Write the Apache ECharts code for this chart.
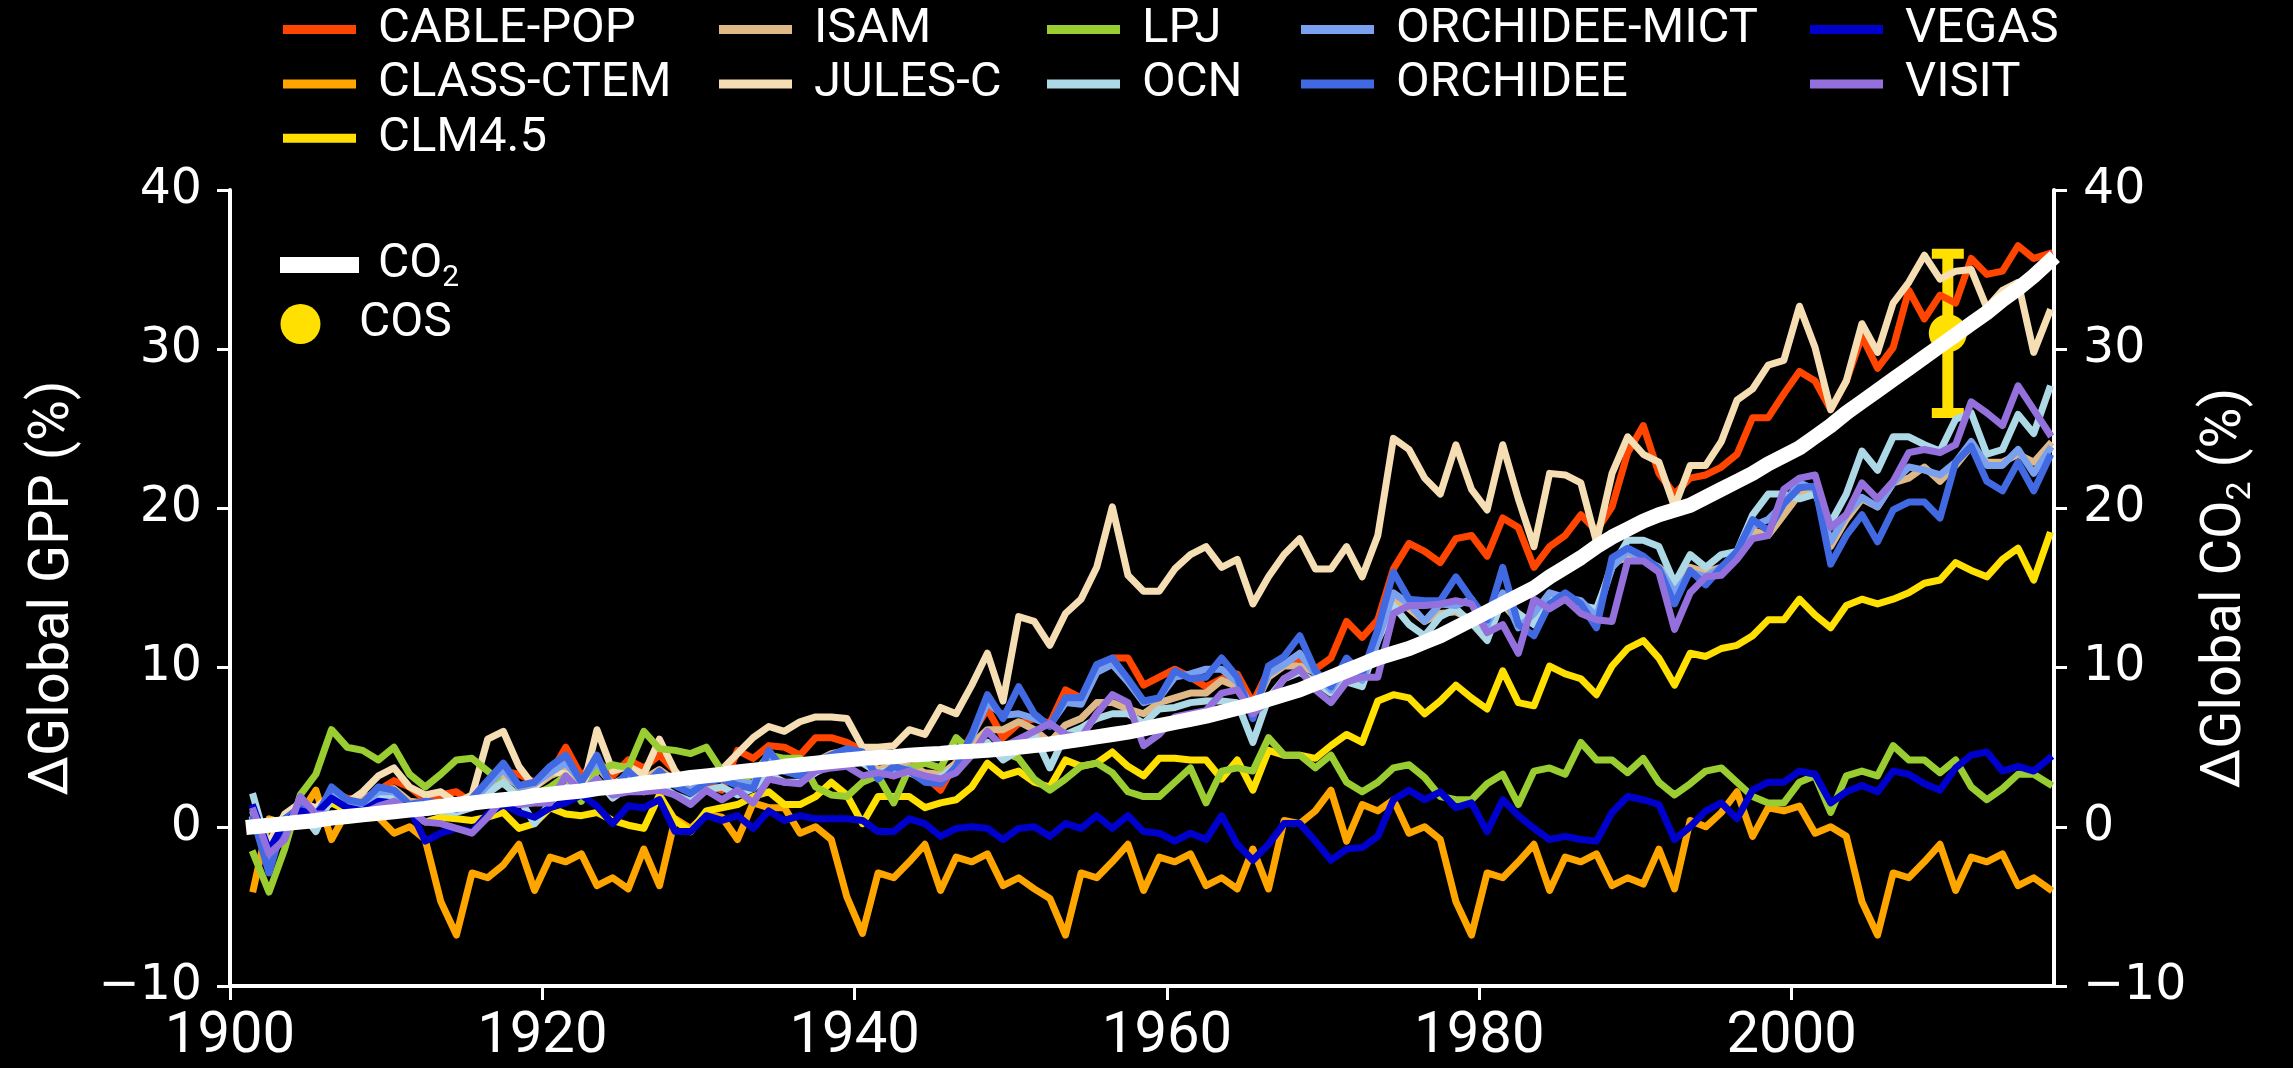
<!DOCTYPE html>
<html>
<head>
<meta charset="utf-8">
<script src="https://cdn.jsdelivr.net/npm/echarts@6/dist/echarts.min.js"></script>
<style>
  html, body { margin: 0; padding: 0; background: #000; }
  #chart { width: 2293px; height: 1068px; }
</style>
</head>
<body>
<div id="chart"></div>
<script>
// Annual change in global GPP (%) per model, 1901-2016, plus atmospheric CO2 change (%)
const FIRST_YEAR = 1901;
const X_TICKS = [1900, 1920, 1940, 1960, 1980, 2000];

const CABLE_POP = [
  0.5, -1.8, 0.5, 1.5, 1.0, 2.2, 1.8, 1.7, 2.3, 2.9, 2.5, 1.7, 2.0, 2.2, 1.5, 2.5, 3.5, 3.3, 2.8, 3.3,
  5.0, 3.2, 4.2, 3.2, 4.2, 3.7, 4.5, 3.5, 2.3, 2.7, 2.3, 4.8, 4.3, 5.1, 5.0, 4.5, 5.6, 5.6, 5.3, 4.8,
  3.5, 3.2, 4.6, 3.2, 2.3, 4.1, 5.8, 7.4, 5.6, 6.5, 6.8, 6.5, 8.6, 8.1, 9.9, 10.6, 10.6, 8.9, 9.4, 9.9,
  9.4, 8.8, 9.3, 9.6, 7.8, 9.8, 10.2, 10.6, 9.9, 10.6, 12.9, 11.9, 13.0, 16.2, 17.8, 17.3, 16.6, 18.1, 18.3, 17.0,
  19.4, 18.8, 16.3, 17.6, 18.3, 19.6, 18.6, 20.1, 23.5, 25.2, 22.2, 20.9, 21.9, 22.1, 22.6, 23.4, 25.7, 25.7, 27.2, 28.6,
  28.0, 26.2, 28.0, 30.8, 28.8, 30.1, 33.7, 31.9, 33.4, 32.9, 35.7, 34.7, 34.9, 36.5, 35.7, 36.0
];
const CLASS_CTEM = [
  -3.9, 0.5, 0.2, 0.8, 2.3, -0.8, 1.0, 0.8, 0.6, -0.4, 0.0, -0.8, -4.7, -6.8, -2.9, -3.2, -2.4, -1.1, -4.0, -1.9,
  -2.2, -1.7, -3.7, -3.2, -3.9, -1.4, -3.7, 0.5, -0.1, 0.8, 0.6, -0.8, 1.5, 1.2, 1.2, -0.4, 0.0, -0.8, -4.4, -6.7,
  -2.9, -3.2, -2.2, -1.1, -4.0, -1.9, -2.2, -1.7, -3.7, -3.2, -3.9, -4.5, -6.8, -2.9, -3.2, -2.2, -1.1, -4.0, -1.9, -2.2,
  -1.7, -3.7, -3.2, -3.9, -1.4, -3.9, 0.4, 0.2, 1.0, 2.3, -0.9, 1.4, 1.0, 1.7, -0.4, 0.0, -0.8, -4.7, -6.8, -2.9,
  -3.2, -2.2, -1.1, -4.0, -1.9, -2.2, -1.7, -3.7, -3.2, -3.6, -1.4, -3.9, 0.4, 0.0, 0.9, 2.2, -0.6, 1.2, 1.0, 1.3,
  -0.4, 0.0, -0.6, -4.7, -6.8, -2.9, -3.2, -2.2, -1.1, -4.0, -1.9, -2.2, -1.7, -3.7, -3.2, -3.9
];
const CLM45 = [
  0.5, -1.5, 0.2, 1.2, 0.8, 1.5, 1.0, 1.2, 1.5, 1.3, 1.0, 0.3, 0.6, 0.5, 0.4, 0.6, 0.9, -0.1, 0.2, 1.2,
  0.8, 0.7, 0.9, 0.4, 0.1, -0.1, 2.0, 0.4, -0.3, 1.0, 1.2, 1.4, 1.9, 2.2, 1.4, 1.4, 1.9, 2.8, 2.0, 0.2,
  1.9, 1.9, 1.9, 1.2, 1.5, 1.7, 2.5, 4.0, 3.2, 3.5, 2.8, 2.5, 4.2, 3.8, 4.0, 4.7, 3.8, 3.2, 4.3, 4.3,
  4.2, 4.2, 3.0, 4.2, 2.3, 4.8, 4.5, 4.5, 4.3, 5.1, 5.8, 5.3, 7.9, 8.3, 8.1, 7.1, 7.9, 8.9, 8.1, 7.4,
  9.8, 7.8, 7.6, 10.1, 9.6, 9.3, 8.3, 10.1, 11.2, 11.7, 10.6, 8.9, 10.9, 10.7, 11.2, 11.4, 12.0, 13.0, 13.0, 14.3,
  13.3, 12.5, 13.9, 14.3, 14.0, 14.3, 14.7, 15.3, 15.5, 16.6, 16.1, 15.7, 16.8, 17.5, 15.5, 18.3
];
const ISAM = [
  0.3, -1.8, 0.6, 1.4, 1.0, 2.0, 1.6, 1.8, 2.2, 2.4, 1.6, 1.5, 1.5, 1.3, 1.7, 2.5, 3.2, 2.6, 2.5, 3.2,
  3.6, 2.8, 3.8, 2.7, 3.2, 3.0, 3.6, 2.9, 2.5, 3.0, 3.1, 3.2, 3.2, 4.0, 3.7, 3.6, 4.1, 4.6, 4.8, 4.5,
  3.6, 3.8, 3.8, 3.4, 3.3, 4.0, 5.2, 6.1, 6.1, 6.6, 6.1, 5.3, 6.4, 6.8, 7.8, 7.8, 7.4, 7.1, 7.8, 8.1,
  8.4, 8.4, 9.2, 8.8, 7.4, 9.4, 10.1, 10.1, 9.7, 8.6, 9.4, 9.2, 11.9, 14.2, 13.7, 12.9, 13.4, 13.5, 13.0, 12.5,
  14.0, 12.9, 13.2, 14.3, 14.3, 13.8, 13.4, 16.6, 16.9, 16.8, 16.3, 15.5, 16.3, 16.0, 16.3, 17.1, 18.6, 18.3, 19.6, 20.9,
  21.2, 17.6, 19.3, 20.6, 20.1, 21.6, 21.9, 22.6, 21.7, 22.7, 23.9, 22.9, 22.9, 23.4, 22.9, 24.0
];
const JULES_C = [
  0.5, -1.0, 0.8, 1.5, 1.2, 2.0, 1.5, 2.2, 3.2, 3.7, 2.5, 2.0, 2.2, 1.5, 2.0, 5.5, 6.0, 3.8, 2.5, 3.5,
  3.3, 2.0, 6.1, 3.5, 3.8, 3.3, 5.5, 3.5, 2.3, 3.0, 3.6, 4.6, 5.6, 6.3, 6.0, 6.6, 6.9, 6.9, 6.8, 5.0,
  5.0, 5.1, 6.1, 5.8, 7.5, 7.1, 8.9, 10.9, 7.9, 13.2, 12.9, 11.4, 13.4, 14.3, 16.3, 20.1, 15.8, 14.8, 14.8, 16.2,
  17.1, 17.6, 16.3, 16.8, 14.0, 15.7, 17.1, 18.1, 16.2, 16.2, 17.6, 15.7, 18.3, 24.4, 23.7, 21.9, 20.9, 24.0, 21.2, 19.9,
  24.0, 20.6, 17.6, 22.2, 22.1, 21.6, 17.9, 22.2, 24.5, 23.4, 22.9, 20.1, 22.7, 22.7, 24.2, 26.8, 27.5, 29.0, 29.3, 32.7,
  30.1, 26.2, 28.0, 31.6, 29.8, 32.9, 34.2, 35.9, 34.4, 34.9, 35.0, 32.6, 33.7, 34.2, 29.8, 32.3
];
const LPJ = [
  -1.7, -4.1, -1.4, 2.0, 3.3, 6.1, 5.0, 4.8, 4.2, 5.0, 3.3, 2.5, 3.3, 4.2, 4.3, 3.5, 2.7, 2.0, 2.0, 2.5,
  3.2, 1.6, 3.5, 3.9, 3.7, 6.0, 4.9, 4.8, 4.6, 5.0, 3.5, 2.8, 3.3, 4.5, 4.3, 4.3, 2.5, 2.0, 1.9, 2.8,
  3.2, 1.5, 3.7, 4.0, 3.7, 5.6, 4.7, 4.8, 4.7, 4.3, 3.0, 2.3, 3.0, 3.8, 4.0, 3.4, 2.2, 1.9, 1.9, 2.8,
  3.7, 1.5, 3.5, 3.7, 3.5, 5.6, 4.5, 4.5, 3.7, 4.5, 2.8, 2.2, 2.8, 3.7, 3.9, 3.1, 1.9, 1.7, 1.7, 2.7,
  3.3, 1.4, 3.5, 3.7, 3.3, 5.3, 4.2, 4.2, 3.4, 4.3, 2.8, 2.0, 2.7, 3.5, 3.7, 2.8, 1.9, 1.5, 1.5, 2.8,
  3.2, 0.9, 3.2, 3.5, 3.2, 5.1, 4.2, 4.2, 3.4, 4.2, 2.5, 1.7, 2.4, 3.3, 3.3, 2.7
];
const OCN = [
  1.9, -1.6, 0.2, 1.0, -0.3, 1.9, 1.3, 1.2, 1.8, 1.9, 1.2, 0.9, 1.0, 0.9, 1.2, 2.1, 2.8, 1.8, 0.2, 1.5,
  2.5, 2.3, 3.0, 1.8, 2.5, 2.2, 2.6, 2.0, 1.6, 2.3, 2.5, 2.0, 2.4, 3.3, 2.8, 2.8, 3.4, 3.9, 4.0, 4.0,
  3.4, 3.6, 3.4, 3.0, 3.1, 3.8, 4.8, 5.3, 4.2, 4.8, 5.8, 3.7, 5.8, 6.2, 6.8, 7.1, 7.1, 6.5, 7.4, 7.5,
  7.8, 7.9, 7.9, 7.8, 5.3, 8.1, 9.3, 9.7, 9.1, 8.4, 9.1, 8.8, 11.7, 13.9, 12.7, 12.0, 13.2, 13.7, 12.8, 11.7,
  14.3, 13.4, 12.7, 14.3, 14.3, 13.9, 13.7, 16.3, 18.0, 18.0, 17.6, 15.3, 17.1, 16.3, 17.1, 17.3, 19.6, 20.9, 20.9, 20.6,
  20.9, 19.1, 20.9, 23.6, 22.4, 24.5, 24.5, 24.0, 23.6, 25.6, 26.0, 23.4, 23.7, 25.9, 24.7, 27.5
];
const ORCHIDEE_MICT = [
  0.8, -2.5, 0.4, 1.3, 0.8, 2.2, 1.5, 1.4, 2.2, 2.2, 1.3, 1.4, 1.4, 1.2, 1.6, 2.6, 3.6, 2.5, 2.7, 3.4,
  4.0, 2.9, 4.1, 2.5, 3.3, 2.8, 3.4, 2.7, 2.3, 2.9, 3.0, 2.8, 2.7, 4.3, 3.5, 3.3, 3.9, 4.2, 4.4, 4.4,
  3.2, 3.7, 3.6, 3.0, 2.9, 3.7, 5.6, 7.8, 7.0, 7.1, 6.8, 6.4, 7.8, 7.7, 9.7, 10.2, 9.1, 7.8, 8.1, 9.4,
  9.6, 9.9, 9.9, 9.1, 7.4, 9.6, 10.2, 10.9, 9.6, 8.6, 10.1, 9.2, 11.7, 14.7, 14.0, 12.9, 14.0, 13.9, 14.3, 12.7,
  14.7, 12.5, 13.4, 14.7, 14.4, 14.2, 13.2, 16.3, 17.3, 16.8, 16.3, 14.7, 16.0, 15.7, 16.3, 17.0, 18.9, 19.3, 20.3, 21.6,
  21.2, 17.9, 19.6, 20.7, 20.1, 21.6, 22.6, 22.4, 22.1, 22.9, 24.2, 22.7, 22.7, 23.7, 22.2, 23.7
];
const ORCHIDEE = [
  0.5, -2.9, 0.5, 1.2, 0.5, 2.5, 1.7, 1.5, 2.5, 2.3, 1.4, 1.6, 1.5, 1.1, 1.8, 2.9, 4.0, 2.6, 2.8, 3.8,
  4.5, 2.8, 4.5, 2.3, 3.5, 2.6, 3.5, 2.6, 2.1, 2.8, 3.0, 2.6, 2.4, 4.8, 3.5, 3.2, 4.1, 4.5, 4.9, 4.7,
  3.0, 3.8, 3.5, 2.8, 2.7, 3.8, 5.8, 8.3, 6.8, 8.8, 7.1, 6.3, 8.1, 8.1, 10.2, 10.6, 9.3, 7.9, 8.1, 9.8,
  9.3, 9.4, 10.6, 9.4, 6.8, 10.1, 10.7, 12.0, 9.8, 8.8, 10.6, 9.6, 12.4, 16.0, 14.3, 14.2, 14.2, 15.7, 14.3, 13.0,
  16.3, 12.7, 12.0, 14.0, 14.7, 14.0, 12.5, 16.9, 17.5, 17.0, 16.2, 14.0, 16.1, 15.2, 16.3, 17.3, 19.3, 18.6, 20.3, 21.3,
  21.4, 16.5, 18.3, 19.6, 17.9, 19.9, 20.4, 20.4, 19.4, 22.9, 23.9, 21.7, 21.1, 22.9, 21.1, 23.2
];
const VEGAS = [
  1.2, -1.5, 0.3, 1.0, 0.8, 1.8, 1.2, 1.0, 1.6, 1.5, 1.2, -0.9, -0.4, -0.1, -0.3, 0.8, 1.4, 0.9, 0.6, 1.2,
  1.5, 2.0, 1.3, 0.2, 1.3, 1.2, 1.7, -0.3, -0.3, 0.7, 0.4, 0.7, -0.1, 1.0, 0.4, 0.7, 0.5, 0.5, 0.5, 0.4,
  -0.3, -0.3, 0.5, 0.2, -0.6, -0.1, 0.0, -0.1, -0.8, -0.1, 0.0, -0.6, 0.2, -0.1, 0.7, -0.1, 0.7, -0.3, -0.4, -0.9,
  -0.4, -0.8, 0.7, -1.1, -2.1, -1.1, 0.2, 0.2, -0.9, -2.1, -1.4, -1.3, -0.6, 1.7, 2.3, 1.7, 2.2, 1.2, 1.5, -0.3,
  1.7, 0.7, -0.1, -0.8, -0.6, -0.8, -0.9, 0.9, 1.9, 1.7, 1.4, -0.8, 0.0, 1.0, 1.5, 0.5, 2.3, 2.8, 2.8, 3.5,
  3.3, 1.5, 2.2, 2.6, 2.2, 3.5, 3.3, 2.7, 2.3, 3.7, 4.5, 4.7, 3.5, 3.8, 3.5, 4.3
];
const VISIT = [
  1.0, -1.7, -0.8, 1.9, 0.8, 0.8, 0.4, 0.8, 1.3, 1.6, 1.1, 0.3, 0.2, -0.1, -0.4, 0.6, 1.8, 1.4, 1.5, 1.5,
  3.2, 2.2, 3.0, 2.0, 2.2, 2.2, 2.3, 2.0, 1.4, 2.3, 1.7, 2.3, 1.5, 3.0, 2.8, 2.7, 3.5, 3.7, 3.8, 3.2,
  3.4, 3.2, 3.5, 3.2, 3.0, 3.4, 4.5, 6.0, 5.0, 5.5, 6.0, 6.5, 5.8, 5.6, 7.1, 8.3, 7.8, 5.1, 5.8, 6.9,
  7.1, 7.3, 8.4, 8.6, 7.1, 7.9, 9.3, 9.9, 8.6, 7.8, 9.1, 9.4, 9.4, 13.4, 13.9, 13.9, 14.0, 14.2, 14.0, 12.2,
  12.7, 10.9, 14.3, 13.7, 14.3, 13.4, 13.0, 12.9, 16.7, 16.7, 16.0, 12.4, 14.7, 15.7, 15.8, 16.8, 18.1, 18.3, 21.2, 21.9,
  22.1, 18.8, 19.6, 21.6, 20.6, 21.7, 23.5, 23.7, 23.5, 24.0, 26.7, 26.0, 25.2, 27.7, 26.2, 24.7
];
const CO2 = [
  0.0, 0.1, 0.2, 0.3, 0.4, 0.55, 0.65, 0.75, 0.85, 0.95, 1.05, 1.15, 1.3, 1.4, 1.5, 1.6, 1.7, 1.8, 1.95, 2.05,
  2.15, 2.25, 2.4, 2.5, 2.6, 2.75, 2.85, 2.95, 3.1, 3.2, 3.3, 3.45, 3.55, 3.65, 3.8, 3.9, 4.0, 4.1, 4.2, 4.3,
  4.35, 4.4, 4.5, 4.55, 4.6, 4.7, 4.75, 4.8, 4.9, 5.0, 5.1, 5.2, 5.35, 5.5, 5.65, 5.8, 5.95, 6.15, 6.35, 6.55,
  6.75, 6.95, 7.2, 7.45, 7.7, 8.0, 8.3, 8.6, 9.0, 9.4, 9.8, 10.2, 10.6, 10.9, 11.2, 11.6, 12.0, 12.5, 13.0, 13.5,
  14.0, 14.5, 15.0, 15.7, 16.3, 16.9, 17.6, 18.2, 18.7, 19.2, 19.6, 19.9, 20.2, 20.7, 21.2, 21.7, 22.2, 22.8, 23.3, 23.8,
  24.5, 25.2, 26.0, 26.7, 27.4, 28.1, 28.8, 29.5, 30.2, 30.9, 31.6, 32.3, 33.1, 33.8, 34.6, 35.5
];
// COS-based estimate with its uncertainty range
const COS_YEAR = 2010;
const COS_VALUE = 31;
const COS_LOW = 26;
const COS_HIGH = 36;

const MODELS = [
  ['CABLE-POP', CABLE_POP], ['CLASS-CTEM', CLASS_CTEM], ['CLM4.5', CLM45],
  ['ISAM', ISAM], ['JULES-C', JULES_C], ['LPJ', LPJ], ['OCN', OCN],
  ['ORCHIDEE-MICT', ORCHIDEE_MICT], ['ORCHIDEE', ORCHIDEE], ['VEGAS', VEGAS], ['VISIT', VISIT]
];

const COLORS = {
  'CABLE-POP': '#FF4500', 'CLASS-CTEM': '#FFA500', 'CLM4.5': '#FFE000',
  'ISAM': '#DEB887', 'JULES-C': '#F5DEB3', 'LPJ': '#9ACD32', 'OCN': '#ADD8E6',
  'ORCHIDEE-MICT': '#7AA0F0', 'ORCHIDEE': '#4169E1', 'VEGAS': '#0000CD', 'VISIT': '#9370DB',
  'CO2': '#FFFFFF', 'COS': '#FFE000'
};

const LEGEND_COLUMNS = [
  ['CABLE-POP', 'CLASS-CTEM', 'CLM4.5'],
  ['ISAM', 'JULES-C'],
  ['LPJ', 'OCN'],
  ['ORCHIDEE-MICT', 'ORCHIDEE'],
  ['VEGAS', 'VISIT']
];
const LEGEND_LEFT = [283, 719, 1047, 1301, 1810];

// annual means are placed at the middle of their year
const years = CO2.map((_, i) => FIRST_YEAR + i);
const toPoints = vals => vals.map((v, i) => [years[i] + 0.5, v]);

const WHITE = '#FFFFFF';
const LABEL_FONT = 'Roboto, "Liberation Sans", sans-serif';
const TICK_FONT = '"DejaVu Sans", sans-serif';
const minusFmt = v => (v < 0 ? '\u2212' + Math.abs(v) : String(v));

const modelSeries = MODELS.map(([name, vals]) => ({
  type: 'line',
  name,
  data: toPoints(vals),
  showSymbol: false,
  symbol: 'none',
  color: COLORS[name],
  lineStyle: { width: 7, color: COLORS[name], cap: 'square', join: 'round' },
  emphasis: { disabled: true },
  silent: true
}));

const cosErrorSeries = {
  type: 'custom',
  name: 'COS range',
  data: [[COS_YEAR, COS_LOW, COS_HIGH]],
  silent: true,
  renderItem(params, api) {
    const x = api.value(0);
    const lo = api.coord([x, api.value(1)]);
    const hi = api.coord([x, api.value(2)]);
    const half = 16;
    const bar = { stroke: COLORS.COS, lineWidth: 11 };
    const cap = { stroke: COLORS.COS, lineWidth: 10 };
    return {
      type: 'group',
      children: [
        { type: 'line', shape: { x1: lo[0], y1: lo[1], x2: hi[0], y2: hi[1] }, style: bar },
        { type: 'line', shape: { x1: lo[0] - half, y1: lo[1], x2: lo[0] + half, y2: lo[1] }, style: cap },
        { type: 'line', shape: { x1: hi[0] - half, y1: hi[1], x2: hi[0] + half, y2: hi[1] }, style: cap }
      ]
    };
  }
};

const cosSeries = {
  type: 'scatter',
  name: 'COS',
  data: [[COS_YEAR, COS_VALUE]],
  symbol: 'circle',
  symbolSize: 38,
  color: COLORS.COS,
  itemStyle: { color: COLORS.COS, opacity: 1 },
  emphasis: { disabled: true },
  silent: true
};

const co2Series = {
  type: 'line',
  name: 'CO2',
  data: toPoints(CO2),
  showSymbol: false,
  symbol: 'none',
  color: WHITE,
  lineStyle: { width: 15, color: WHITE, cap: 'square', join: 'round' },
  emphasis: { disabled: true },
  silent: true
};

const modelLegends = LEGEND_COLUMNS.map((names, i) => ({
  data: names.map(n => ({ name: n, icon: 'rect' })),
  orient: 'vertical',
  left: LEGEND_LEFT[i],
  top: 4.5,
  padding: 0,
  itemWidth: 73,
  itemHeight: 9,
  itemGap: 4.4,
  selectedMode: false,
  textStyle: {
    color: WHITE, fontFamily: LABEL_FONT, fontSize: 49, lineHeight: 40,
    padding: [10, 0, 0, 17]
  }
}));

const co2Legend = {
  data: [{ name: 'CO2', icon: 'rect' }],
  orient: 'vertical',
  left: 280,
  top: 241,
  padding: 0,
  itemWidth: 79,
  itemHeight: 16,
  selectedMode: false,
  formatter: () => '{a|CO}{s|2}',
  textStyle: {
    color: WHITE, padding: [0, 0, 0, 14],
    rich: {
      a: { color: WHITE, fontFamily: LABEL_FONT, fontSize: 48, lineHeight: 56 },
      s: { color: WHITE, fontFamily: LABEL_FONT, fontSize: 30, lineHeight: 30, verticalAlign: 'bottom' }
    }
  }
};

const cosLegend = {
  data: [{ name: 'COS', icon: 'circle', itemStyle: { color: COLORS.COS, opacity: 1 } }],
  orient: 'vertical',
  left: 280.5,
  top: 291,
  padding: 0,
  itemWidth: 79,
  itemHeight: 40,
  selectedMode: false,
  textStyle: {
    color: WHITE, fontFamily: LABEL_FONT, fontSize: 48, lineHeight: 56,
    padding: [10, 0, 0, 14]
  }
};

const axisCommon = {
  axisLine: { show: true, onZero: false, lineStyle: { color: WHITE, width: 4 } },
  axisTick: { show: true, inside: false, length: 13, lineStyle: { color: WHITE, width: 3 } },
  splitLine: { show: false }
};

const option = {
  backgroundColor: '#000',
  animation: false,
  grid: { left: 230, right: 239, top: 190, bottom: 82, containLabel: false, outerBoundsMode: 'none' },
  legend: [...modelLegends, co2Legend, cosLegend],
  xAxis: {
    type: 'value',
    min: 1900,
    max: 2016.8,
    interval: 20,
    ...axisCommon,
    axisTick: { ...axisCommon.axisTick, length: 14, customValues: X_TICKS },
    axisLabel: {
      customValues: X_TICKS,
      formatter: v => String(v),
      color: WHITE, fontFamily: LABEL_FONT, fontSize: 58, margin: 22
    }
  },
  yAxis: [
    {
      type: 'value', position: 'left', min: -10, max: 40, interval: 10,
      ...axisCommon,
      axisLabel: { color: WHITE, fontFamily: TICK_FONT, fontSize: 49, margin: 28, formatter: minusFmt },
      name: 'ΔGlobal GPP (%)',
      nameLocation: 'middle',
      nameRotate: 90,
      nameGap: 148,
      nameTextStyle: { color: WHITE, fontFamily: LABEL_FONT, fontSize: 56, lineHeight: 56 }
    },
    {
      type: 'value', position: 'right', min: -10, max: 40, interval: 10,
      ...axisCommon,
      axisLabel: { color: WHITE, fontFamily: TICK_FONT, fontSize: 49, margin: 29, formatter: minusFmt },
      name: '{t|ΔGlobal CO}{s|2}{t| (%)}',
      nameLocation: 'middle',
      nameRotate: 90,
      nameGap: 140,
      nameTextStyle: {
        color: WHITE,
        rich: {
          t: { color: WHITE, fontFamily: LABEL_FONT, fontSize: 56, lineHeight: 64 },
          s: { color: WHITE, fontFamily: LABEL_FONT, fontSize: 34, lineHeight: 34, verticalAlign: 'bottom' }
        }
      }
    }
  ],
  series: [...modelSeries, cosErrorSeries, cosSeries, co2Series]
};

const chart = echarts.init(document.getElementById('chart'), null, { renderer: 'canvas' });
chart.setOption(option);
</script>
</body>
</html>
